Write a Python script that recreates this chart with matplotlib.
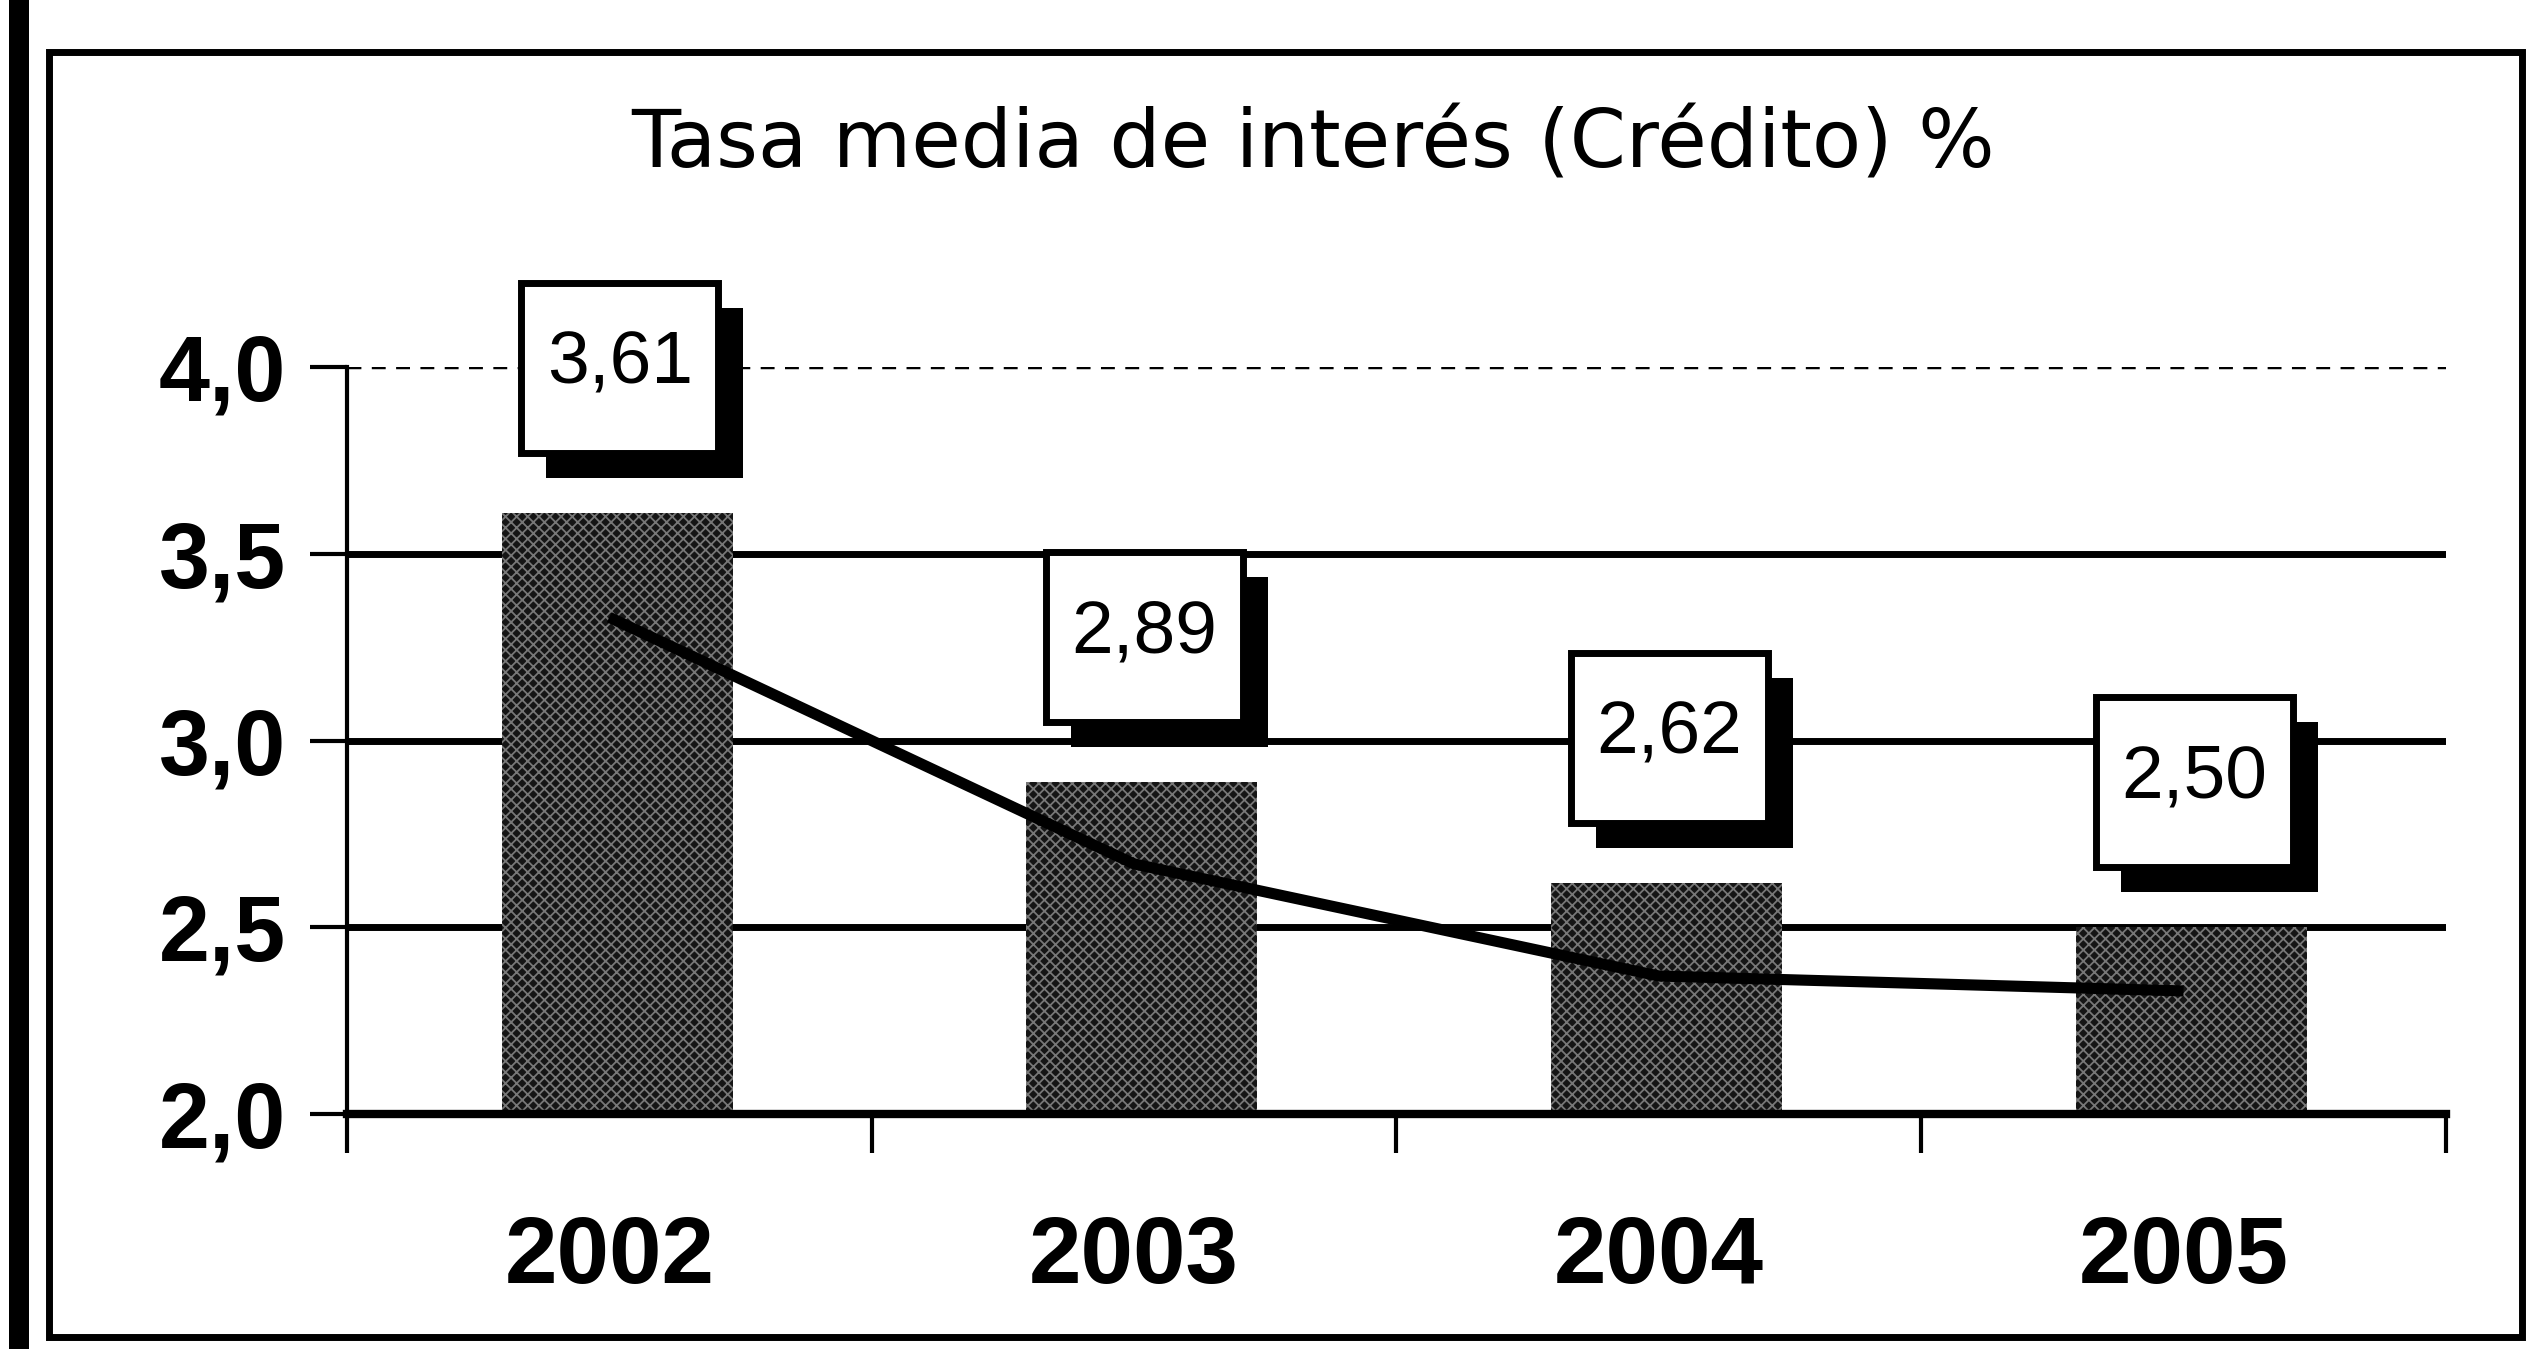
import numpy as np
import matplotlib
matplotlib.use('Agg')
import matplotlib.pyplot as plt
from matplotlib.patches import Rectangle
from matplotlib.transforms import ScaledTranslation

# datos
years = ['2002', '2003', '2004', '2005']
tasa = [3.61, 2.89, 2.62, 2.50]
tendencia = [3.33, 2.67, 2.37, 2.33]
etiquetas = ['3,61', '2,89', '2,62', '2,50']
yticks = [2.0, 2.5, 3.0, 3.5, 4.0]
ytick_labels = ['2,0', '2,5', '3,0', '3,5', '4,0']
titulo = 'Tasa media de interés (Crédito) %'

plt.rcParams['font.family'] = ['Liberation Sans', 'DejaVu Sans']
plt.rcParams['hatch.linewidth'] = 1.3

fig = plt.figure(figsize=(25.32, 13.49), dpi=100)
ax = fig.add_axes([0.137, 0.174, 0.829, 0.554])
x = np.arange(len(years))

# lineas de la grilla
for y in yticks[1:-1]:
    ax.axhline(y, color='black', lw=5, zorder=1)
ax.axhline(yticks[-1], color='black', lw=2.5, ls=(0, (4, 3)), zorder=1)

# barras con textura oscura
ax.bar(x + 0.015, tasa, width=0.44, color='#151515', edgecolor='#777777',
       hatch='xxx', linewidth=0, zorder=2)
# linea de tendencia
ax.plot(x, tendencia, color='black', lw=8, zorder=3, solid_capstyle='butt')

# cajas con valores y sombra (tamanos en pulgadas)
box_w, box_h, box_dy, sh = 1.97, 1.70, 1.45, 0.25
for xi, v, s in zip(x, tasa, etiquetas):
    tr = fig.dpi_scale_trans + ScaledTranslation(xi + 0.02, v, ax.transData)
    ax.add_artist(Rectangle((-box_w / 2 + sh, box_dy - box_h / 2 - sh), box_w, box_h,
                            transform=tr, fc='black', ec='none', zorder=4, clip_on=False))
    ax.add_artist(Rectangle((-box_w / 2, box_dy - box_h / 2), box_w, box_h,
                            transform=tr, fc='white', ec='black', lw=5, zorder=5, clip_on=False))
    ax.text(0, box_dy + 0.04, s, transform=tr, ha='center', va='center',
            fontsize=54, zorder=6, clip_on=False)

ax.set_xlim(-0.5, 3.5)
ax.set_ylim(2.0, 4.0)
ax.set_xticks(np.arange(-0.5, 4, 1))
ax.set_xticklabels([])
ax.set_xticks(x, minor=True)
ax.set_xticklabels(years, minor=True, fontsize=68, fontweight='bold')
ax.tick_params(axis='x', which='major', length=28, width=3, direction='out')
ax.tick_params(axis='x', which='minor', length=0, pad=72)
ax.set_yticks(yticks)
ax.set_yticklabels(ytick_labels, fontsize=66, fontweight='bold')
ax.tick_params(axis='y', length=27, width=3, pad=17)
for s in ['top', 'right']:
    ax.spines[s].set_visible(False)
ax.spines['left'].set_linewidth(3)
ax.spines['bottom'].set_linewidth(6)

fig.text(0.5186, 0.8925, titulo, ha='center', va='center', fontsize=58,
         family=['DejaVu Sans'])

# marco exterior
fig.add_artist(Rectangle((0.0194, 0.0089), 0.996 - 0.0194, 0.9615 - 0.0089,
                         transform=fig.transFigure, fill=False, ec='black', lw=5))
fig.add_artist(Rectangle((9 / 2532, 0), 20 / 2532, 1, transform=fig.transFigure,
                         fc='black', ec='none'))

fig.savefig('out.png', dpi=100)
